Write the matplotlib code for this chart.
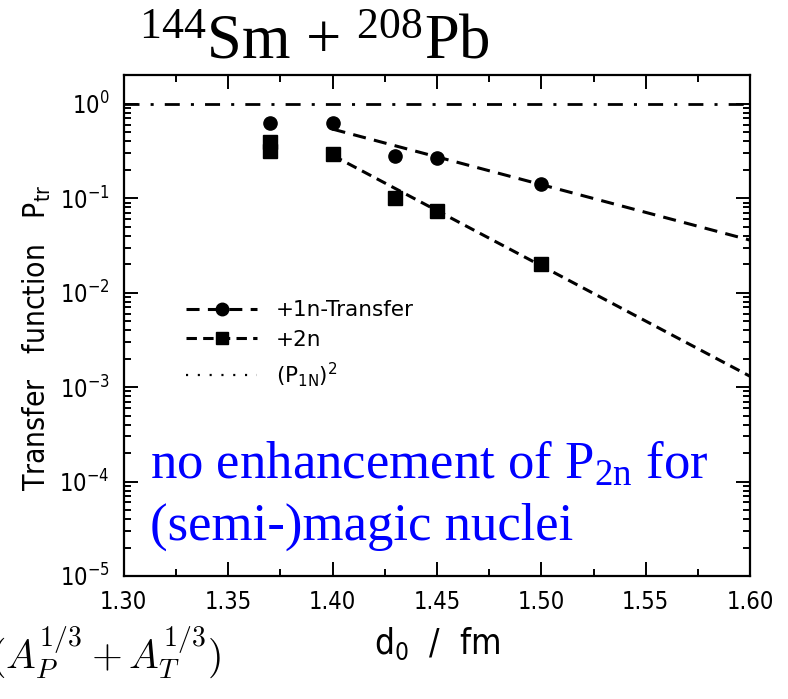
import numpy as np
import matplotlib
matplotlib.use("Agg")
import matplotlib.pyplot as plt
from matplotlib.lines import Line2D
from matplotlib.ticker import MultipleLocator, LogLocator, FuncFormatter

plt.rcParams['font.family'] = ['DejaVu Sans']
plt.rcParams['font.stretch'] = 'condensed'
plt.rcParams['lines.scale_dashes'] = False

# measured points
d0_1n = [1.37, 1.40, 1.43, 1.45, 1.50]
p_1n = [0.63, 0.63, 0.28, 0.27, 0.143]
d0_2n = [1.37, 1.37, 1.40, 1.43, 1.45, 1.50]
p_2n = [0.39, 0.32, 0.295, 0.101, 0.073, 0.020]

# exponential fits (straight lines on log scale)
d0_fit = [1.40, 1.60]
fit_1n = [0.54, 0.036]
fit_2n = [0.285, 0.0013]

x_ticks = [1.30, 1.35, 1.40, 1.45, 1.50, 1.55, 1.60]
ylim = (1e-5, 2.03)

fig = plt.figure(figsize=(7.88, 6.99), dpi=100)
ax = fig.add_axes([0.157, 0.176, 0.795, 0.717])

dash_1n = (0, (9.4, 6.0))
dash_2n = (0, (7.5, 4.5))
dashdot = (0, (10.8, 8.0, 2.2, 8.0))

ax.axhline(1.0, color='black', lw=2.0, linestyle=dashdot)
ax.plot(d0_fit, fit_1n, color='black', lw=2.2, linestyle=dash_1n)
ax.plot(d0_fit, fit_2n, color='black', lw=2.2, linestyle=dash_2n)
ax.plot(d0_1n, p_1n, 'o', color='black', ms=9.5, ls='none')
ax.plot(d0_2n, p_2n, 's', color='black', ms=9.5, ls='none')

ax.set_yscale('log')
ax.set_xlim(1.30, 1.60)
ax.set_ylim(*ylim)
ax.set_xticks(x_ticks)
ax.set_xticklabels(['%.2f' % v for v in x_ticks])
ax.xaxis.set_minor_locator(MultipleLocator(0.025))
ax.yaxis.set_major_locator(LogLocator(base=10, numticks=10))
ax.yaxis.set_minor_locator(LogLocator(base=10, subs=np.arange(2, 10), numticks=10))
ax.yaxis.set_major_formatter(
    FuncFormatter(lambda v, p: r'$\mathregular{10^{%d}}$' % round(np.log10(v))))

ax.tick_params(which='both', direction='in', top=True, right=True, width=1.4)
ax.tick_params(which='major', length=10, labelsize=17, pad=10)
ax.tick_params(which='minor', length=5)
for s in ax.spines.values():
    s.set_linewidth(1.6)

ax.set_ylabel(r'Transfer   function   $\mathregular{P_{tr}}$', fontsize=21.5)
ax.yaxis.set_label_coords(-0.113, 0.475)
ax.set_xlabel(r'$\mathregular{d_0}$  /  fm', fontsize=25)
ax.xaxis.set_label_coords(0.5, -0.10)

handles = [
    Line2D([], [], color='black', lw=2.2, linestyle=dash_1n, marker='o', ms=9),
    Line2D([], [], color='black', lw=2.2, linestyle=dash_2n, marker='s', ms=9),
    Line2D([], [], color='black', lw=1.6, linestyle=(0, (1.5, 7.0))),
]
labels = ['+1n-Transfer', '+2n', r'$\mathregular{(P_{1N})^2}$']
ax.legend(handles, labels, loc='upper left', bbox_to_anchor=(0.10, 0.55),
          frameon=False, prop={'size': 15.5, 'stretch': 'normal'},
          handlelength=3.3, handletextpad=0.85,
          labelspacing=0.45, borderpad=0, borderaxespad=0, numpoints=1)

# title and annotations
fig.text(0.176, 0.917, r'$\mathregular{^{144}}$Sm + $\mathregular{^{208}}$Pb', fontsize=45,
         family='Liberation Serif', stretch='normal', va='baseline', ha='left')
fig.text(0.19, 1 - 479 / 699, r'no enhancement of $\mathregular{P_{2n}}$ for', fontsize=38,
         family='Liberation Serif', stretch='normal', color='#0000FF',
         va='baseline', ha='left')
fig.text(0.19, 1 - 540 / 699, '(semi-)magic nuclei', fontsize=38,
         family='Liberation Serif', stretch='normal', color='#0000FF',
         va='baseline', ha='left')
fig.text(0.281, 1 - 668 / 699, r'$(A_P^{1/3}+A_T^{1/3})$', fontsize=28.5,
         math_fontfamily='cm', va='baseline', ha='right')

fig.savefig('out.png', dpi=100)
